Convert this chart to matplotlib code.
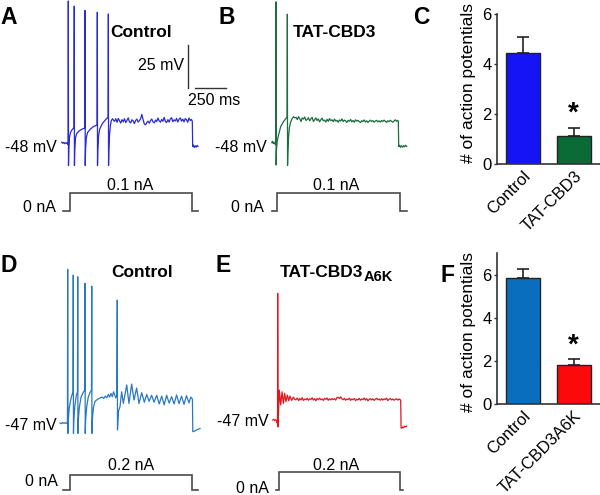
import numpy as np
import matplotlib
matplotlib.use('Agg')
import matplotlib.pyplot as plt
from matplotlib.text import Annotation

plt.rcParams['font.family'] = ['Liberation Sans', 'DejaVu Sans']

# ---------------- data ----------------
# Panel A (Control, 0.1 nA) : (ms, mV) vertices
A_pre = [(14, -47.5), (22, -48.2), (30, -47.6), (38, -48.4), (46, -47.8), (54, -48.3), (60, -47.9), (64, -49),
         (66, -46), (67, 34), (68.5, -61),
         (71, -52), (76, -45), (84, -42), (96, -40.5), (108, -39.5), (113, -39.3),
         (115, 31), (116.5, -61),
         (119, -52), (125, -45), (135, -42.5), (155, -41), (178, -40), (200, -39.3),
         (202, 28.5), (203.5, -61),
         (206, -52), (212, -45), (222, -42), (245, -40), (270, -38.5), (299, -37.6),
         (301, 27.5), (302.5, -61),
         (305, -52), (311, -44), (320, -40), (340, -37), (362, -35), (388, -33),
         (390, 26.5), (391.5, -61),
         (394, -52), (399, -44), (406, -38), (414, -35), (424, -34), (433, -35)]
A_plat_start = 440
A_plat = [-35.5, -34, -36, -33.8, -35.2, -36.5, -34.5, -35.8, -34, -36.2,
          -35, -33.5, -35.8, -36.4, -34.6, -35.2, -36.8, -35, -34.2, -35.9,
          -35.1, -34, -31.5, -34.5, -37, -37.5, -36.2, -35.4, -36.6, -35,
          -34.2, -35.8, -36.4, -34.8, -35.6, -33.6, -35.2, -36, -34.4, -35.5,
          -33.2, -35.6, -36.2, -34.5, -35.9, -34.1, -33.4, -35.7, -34.6, -35.3,
          -33.8, -35.9, -34.3, -33.5, -35.4, -34.2, -35.8, -33.9, -34.6, -36,
          -33.6, -35, -34.4]
A_post = [(1067, -35.5), (1070, -50), (1076, -49.2), (1083, -50.6), (1090, -49.6),
          (1098, -50.4), (1106, -49.4), (1113, -50)]
A_stim = (27, 81, 1067, 1115)   # start, on, off, end (ms)
A_amp = 0.1

# Panel B (TAT-CBD3, 0.1 nA)
B_pre = [(14, -47.8), (20, -47), (26, -48.3), (32, -47.5), (38, -48.6), (44, -47.8), (46, -49),
         (47, -46), (48, 33.5), (49.5, -60.7),
         (52, -52), (58, -47), (67, -44), (86, -38.6), (108, -35.7), (129, -33.8), (138, -33),
         (140, 26.4), (141.5, -61),
         (145, -52), (150, -44), (157, -39), (166, -36), (178, -34), (190, -32.8), (200, -33.5)]
B_plat_start = 210
B_plat = [-33.2, -34.5, -32.8, -34, -35.6, -33.5, -34.2, -33, -35, -34.4,
          -33.4, -35.2, -34, -33.2, -35.6, -34.5, -33.5, -35, -34.1, -35.8,
          -34.6, -33.6, -35.2, -34.8, -35.9, -34.3, -35.5, -33.9, -35.1, -34.6,
          -35.7, -34.2, -35.4, -34.9, -36, -34.7, -35.3, -34.1, -35.6, -34.8,
          -35.2, -36.1, -34.9, -35.5, -34.4, -35.8, -35, -36, -34.6, -35.4,
          -34.9, -35.7, -36.2, -35.1, -35.6, -34.7, -35.9, -35.2, -36.1, -35.4,
          -34.8, -35.6, -35.1, -36, -35.3, -34.9, -35.8, -35.2, -35.9, -35,
          -35.6, -34.8, -35.5, -36.1, -35.2, -35.7, -34.9, -35.4, -36, -35.3,
          -34.6, -35.5, -34.9]
B_post = [(1035, -35.5), (1038, -50), (1045, -49.3), (1052, -50.5), (1060, -49.6), (1068, -50.4),
          (1077, -49.5), (1085, -50.2), (1094, -49.3), (1102, -50)]
B_stim = (14, 54, 1048, 1102)
B_amp = 0.1

# Panel D (Control, 0.2 nA)
D_pre = [(0, -47), (10, -47.4), (20, -46.7), (30, -47.2), (40, -46.8), (50, -47.3), (58, -47),
         (60, -45), (62, 41.7), (63.5, -53),
         (67, -45), (75, -38), (88, -33), (100, -30), (105, -29),
         (107, 38.4), (108.5, -53),
         (112, -45), (120, -37), (132, -31), (141, -29),
         (143, 37.4), (144.5, -53),
         (148, -45), (156, -38), (170, -32), (186, -29.5), (200, -28),
         (202, 33.6), (203.5, -53),
         (207, -45), (215, -38), (228, -32), (242, -29.5), (254, -28),
         (256, 32), (257.5, -53),
         (262, -44), (270, -38), (282, -34.5), (296, -33.7),
         (310, -33), (325, -32.5), (340, -32), (352, -32.8), (365, -31.5), (378, -32.4), (390, -30.5),
         (400, -32), (412, -30), (422, -31.8), (432, -29), (442, -31), (450, -32.5), (458, -31),
         (462, 24), (463.5, -51),
         (472, -40), (484, -37.6), (497, -29), (511, -35.7), (538, -25), (556, -35.7), (578, -24.5),
         (597, -33.7), (618, -26.8), (637, -35.7), (659, -29.5), (680, -35), (699, -30.5), (718, -34.5),
         (739, -31), (758, -35), (780, -31), (800, -36), (820, -31.5), (840, -36.5), (860, -31),
         (880, -35.5), (900, -31.8), (920, -36), (940, -30.8), (960, -35.8), (980, -31.5), (1000, -36.2),
         (1020, -31.2), (1040, -35.4), (1055, -32), (1066, -33)]
D_post = [(1068, -33.5), (1071, -52), (1080, -51.8), (1090, -51.5), (1100, -51), (1110, -50.8),
          (1120, -50.4), (1129, -50.2)]
D_stim = (27, 81, 1067, 1113)
D_amp = 0.2

# Panel E (TAT-CBD3A6K, 0.2 nA)
E_pre = [(22, -47), (30, -46.6), (38, -47.3), (46, -46.9), (52, -47.4), (56, -48.5), (60, -47),
         (61, -44), (62, 26.1), (64, -51),
         (69, -42), (75, -29.7), (86, -38.3), (97, -30.7), (108, -37.4), (118, -31.6), (129, -36.4),
         (140, -32.6), (151, -35.9), (161, -33.2), (175, -35.7), (188, -33.8), (202, -35.3)]
E_plat_start = 210
E_plat = [-35.2, -34.3, -35.8, -34.6, -35.4, -34.1, -35.7, -34.9, -35.3, -34.5,
          -35.6, -34.8, -35.1, -34.2, -35.5, -34.7, -35.9, -34.6, -35.2, -34.4,
          -35.3, -34.9, -35.7, -34.5, -35.1, -34.3, -35.6, -34.8, -35.4, -34.6,
          -35.2, -34.7, -35.5, -34.1, -33.9, -34.6, -33.6, -34.8, -35.3, -34.5,
          -35.6, -34.9, -35.2, -34.4, -35.7, -34.8, -35.3, -34.6, -35.8, -35,
          -35.4, -34.5, -35.6, -34.9, -35.2, -34.3, -35.5, -34.7, -35.9, -35.1,
          -34.6, -35.4, -34.8, -35.7, -35, -34.5, -35.3, -34.9, -35.6, -34.7,
          -35.5, -34.8, -35.2, -34.4, -35.8, -35, -34.6, -35.4, -34.9, -35.6,
          -35.1, -34.7, -35.5, -34.9, -35.3]
E_post = [(1054, -35.5), (1057, -51.5), (1063, -51.8), (1070, -51), (1078, -51.4), (1086, -50.6),
          (1094, -51), (1102, -50.5)]
E_stim = (48, 73, 1048, 1075)
E_amp = 0.2

# Bar charts
C_cats = ["Control", "TAT-CBD3"]
C_means = [4.43, 1.14]
C_sems = [0.64, 0.32]
F_cats = ["Control", "TAT-CBD3A6K"]
F_means = [5.84, 1.80]
F_sems = [0.45, 0.28]

# ---------------- layout / style ----------------
W, H = 600, 495
fig = plt.figure(figsize=(W / 100, H / 100), dpi=100)
PX_PER_MS = 31 / 250
PX_PER_MV = 43.3 / 25
STEP_C = '#4a4a4a'
TXT = 11.5


def px_axes(x0, y0, x1, y1):
    return fig.add_axes([x0 / W, 1 - y1 / H, (x1 - x0) / W, (y1 - y0) / H])


def ftext(x, y, s, **kw):
    return fig.text(x / W, 1 - y / H, s, **kw)


def trace_panel(x0, y0, y1, base_px, base_mv, pre, plat_start, plat, post, color):
    x1 = x0 + 145
    ax = px_axes(x0, y0, x1, y1)
    ax.set_xlim(0, (x1 - x0) / PX_PER_MS)
    ax.set_ylim(base_mv - (y1 - base_px) / PX_PER_MV, base_mv + (base_px - y0) / PX_PER_MV)
    ax.axis('off')
    t = [p[0] for p in pre]
    v = [p[1] for p in pre]
    if plat:
        t += list(plat_start + 10 * np.arange(len(plat)))
        v += list(plat)
    t += [p[0] for p in post]
    v += [p[1] for p in post]
    ax.plot(t, v, color=color, lw=0.9, clip_on=False, solid_joinstyle='round')
    return ax


def step_panel(x0, zero_px, amp_px, amp, stim):
    x1 = x0 + 145
    ya, yb = amp_px - 8, zero_px + 8
    ax = px_axes(x0, ya, x1, yb)
    ax.set_xlim(0, (x1 - x0) / PX_PER_MS)
    per = (zero_px - amp_px) / amp
    ax.set_ylim(-(yb - zero_px) / per, (zero_px - ya) / per)
    ax.axis('off')
    ts, ton, toff, te = stim
    ax.plot([ts, ton, ton, toff, toff, te], [0, 0, amp, amp, 0, 0], color=STEP_C, lw=1.2,
            solid_joinstyle='miter', clip_on=False)
    return ax


axA = trace_panel(60, 0, 175, 143, -48, A_pre, A_plat_start, A_plat, A_post, '#2a2ad8')
axB = trace_panel(270, 0, 175, 143, -48, B_pre, B_plat_start, B_plat, B_post, '#1d6e3e')
axD = trace_panel(60, 250, 440, 423, -47, D_pre, None, None, D_post, '#2a79c0')
axE = trace_panel(270, 250, 440, 420, -47, E_pre, E_plat_start, E_plat, E_post, '#e8141c')

step_panel(60, 210.7, 192.7, A_amp, A_stim)
step_panel(270, 211, 192.7, B_amp, B_stim)
step_panel(60, 490, 475, D_amp, D_stim)
step_panel(270, 490, 471.7, E_amp, E_stim)

# scale bar in panel A (25 mV, 250 ms)
axA.plot([1035, 1035], [8.5, 8.5 - 25], color='#333333', lw=1.0, clip_on=False)
axA.plot([1089, 1089 + 250], [-16.4, -16.4], color='#333333', lw=1.0, clip_on=False)
ftext(183.5, 70.5, "25 mV", fontsize=TXT, ha='right', va='baseline')
ftext(187.5, 105, "250 ms", fontsize=TXT, ha='left', va='baseline')

# trace labels
ftext(57, 152, "-48 mV", fontsize=TXT, ha='right', va='baseline')
ftext(267, 152, "-48 mV", fontsize=TXT, ha='right', va='baseline')
ftext(57, 430.5, "-47 mV", fontsize=TXT, ha='right', va='baseline')
ftext(268.5, 426, "-47 mV", fontsize=TXT, ha='right', va='baseline')
ftext(55.5, 212.5, "0 nA", fontsize=TXT, ha='right', va='baseline')
ftext(263.5, 212.5, "0 nA", fontsize=TXT, ha='right', va='baseline')
ftext(57.5, 485.5, "0 nA", fontsize=TXT, ha='right', va='baseline')
ftext(268.5, 493, "0 nA", fontsize=TXT, ha='right', va='baseline')
ftext(130, 189.5, "0.1 nA", fontsize=TXT, ha='center', va='baseline')
ftext(336.5, 189.5, "0.1 nA", fontsize=TXT, ha='center', va='baseline')
ftext(131.5, 470.5, "0.2 nA", fontsize=TXT, ha='center', va='baseline')
ftext(336, 470.5, "0.2 nA", fontsize=TXT, ha='center', va='baseline')

# titles
ftext(110.5, 37.3, "Control", fontsize=12.5, fontweight='bold', va='baseline')
ftext(292.5, 36.8, "TAT-CBD3", fontsize=12.5, fontweight='bold', va='baseline')
ftext(111, 276.7, "Control", fontsize=12.5, fontweight='bold', va='baseline')
tE = ftext(280, 276.7, "TAT-CBD3", fontsize=12.5, fontweight='bold', va='baseline')
fig.add_artist(Annotation("A6K", xy=(1, 0), xycoords=tE, xytext=(0.5, -1.0),
                          textcoords='offset points', fontsize=10.5, fontweight='bold',
                          ha='left', va='baseline'))

# panel letters
for x, y, s in [(0, 24, 'A'), (219, 24, 'B'), (413.5, 23.5, 'C'),
                (1, 272, 'D'), (215.5, 272, 'E'), (441, 282, 'F')]:
    ftext(x, y, s, fontsize=16.5, fontweight='bold', va='baseline')


def bar_panel(rect, cats, means, sems, colors, ymax, label_y):
    ax = px_axes(*rect)
    x = np.arange(len(cats))
    ax.bar(x, means, width=0.665, color=colors, edgecolor='#222222', linewidth=1.0, zorder=2)
    ax.errorbar(x, means, yerr=[np.zeros(len(sems)), sems], fmt='none', ecolor='#222222',
                elinewidth=1.2, capsize=4.3, capthick=1.2, zorder=3)
    ax.annotate('*', xy=(1, means[1] + sems[1]), xytext=(0, 0.5), textcoords='offset points',
                ha='center', va='bottom', fontsize=20, fontweight='bold')
    ax.set_xlim(-0.52, 1.52)
    ax.set_ylim(0, ymax)
    ax.set_yticks([0, 2, 4, 6])
    ax.set_xticks(x)
    ax.set_xticklabels(cats, rotation=45, ha='right', va='top', rotation_mode='anchor', fontsize=12)
    for sp in ['top', 'right']:
        ax.spines[sp].set_visible(False)
    for sp in ['left', 'bottom']:
        ax.spines[sp].set_color('#333333')
        ax.spines[sp].set_linewidth(1.2)
    ax.tick_params(axis='x', length=0, pad=3)
    ax.tick_params(axis='y', length=2.5, width=1, color='#333333', labelsize=12, pad=1.5)
    ax.set_ylabel('# of action potentials', fontsize=12.5)
    ax.yaxis.set_label_coords(-0.2, label_y)
    ax.set_facecolor('none')
    return ax


bar_panel((497, 14, 600, 164.3), C_cats, C_means, C_sems, ['#1414f5', '#0b6b36'], 6, 0.54)
bar_panel((497, 253.3, 600, 404.3), F_cats, F_means, F_sems, ['#0a6ebf', '#fa0a0a'], 7, 0.48)

fig.savefig('out.png', dpi=100)
